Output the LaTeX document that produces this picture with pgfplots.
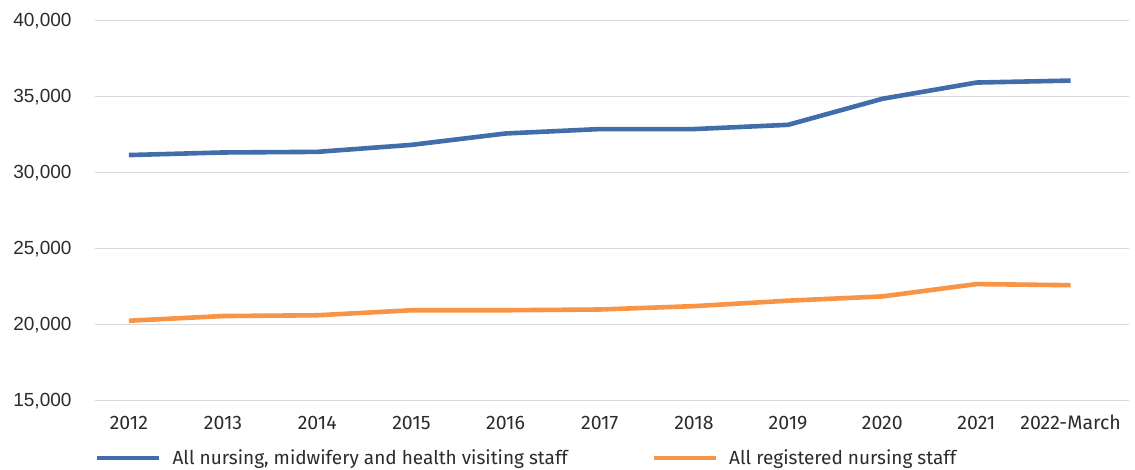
\documentclass[border=0pt]{standalone}
\usepackage{pgfplots}
\pgfplotsset{compat=1.18}
\usepackage{fontspec}
\setmainfont{Fira Sans}
\newfontfamily\yfont{Liberation Sans}
\definecolor{blueline}{HTML}{416DAB}
\definecolor{orangeline}{HTML}{F79446}
\definecolor{gridgray}{HTML}{D9D9D9}
\definecolor{txt}{HTML}{2B2B2B}
\begin{document}
\begin{tikzpicture}
\begin{axis}[
  at={(0pt,0pt)}, anchor=south west,
  scale only axis,
  width=1034pt, height=380pt,
  xmin=-0.36, xmax=10.62,
  ymin=15000, ymax=40000,
  ytick={15000,20000,25000,30000,35000,40000},
  xtick={0,...,10},
  xticklabels={2012,2013,2014,2015,2016,2017,2018,2019,2020,2021,2022-March},
  axis line style={draw=none},
  major tick length=0pt,
  ymajorgrids,
  grid style={gridgray, line width=1.3pt},
  scaled y ticks=false,
  /pgf/number format/.cd, 1000 sep={,}, assume math mode=true,
  /pgfplots/.cd,
  yticklabel style={font=\yfont\fontsize{19}{21}\selectfont, text=txt, anchor=east, xshift=-20pt},
  xticklabel style={font=\fontsize{19.5}{22}\selectfont, text=txt, anchor=center, yshift=-22pt},
  legend style={at={(0.0,-0.151)}, anchor=west, draw=none, fill=none,
    inner sep=0pt, outer sep=0pt, font=\fontsize{19}{22}\selectfont, text=txt,
    nodes={inner sep=0pt},
    /tikz/every odd column/.append style={column sep=11pt},
    /tikz/every even column/.append style={column sep=0pt}},
  legend columns=2,
  legend cell align=left,
  legend image code/.code={\draw[#1] (0pt,0pt) -- (62pt,0pt);},
]
\addplot[blueline, line width=4.6pt] coordinates {
 (0,31160) (1,31330) (2,31370) (3,31830) (4,32580) (5,32870) (6,32870) (7,33150) (8,34860) (9,35930) (10,36060)};
\addlegendentry{\makebox[479pt][l]{All nursing, midwifery and health visiting staff}}
\addplot[orangeline, line width=4.6pt] coordinates {
 (0,20260) (1,20570) (2,20620) (3,20950) (4,20950) (5,21000) (6,21220) (7,21580) (8,21860) (9,22670) (10,22600)};
\addlegendentry{All registered nursing staff}
\end{axis}
\pgfresetboundingbox
\path[use as bounding box] (-95pt,-69.3pt) rectangle (1040pt,400.7pt);
\end{tikzpicture}
\end{document}
